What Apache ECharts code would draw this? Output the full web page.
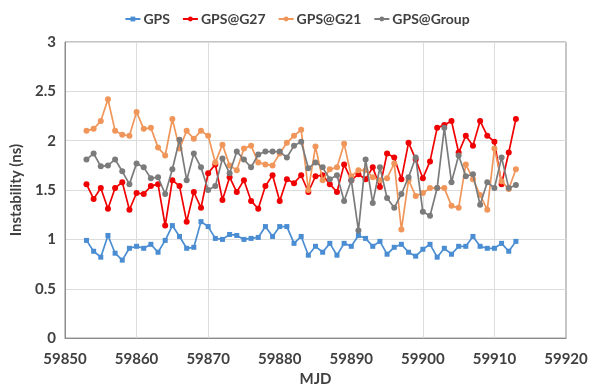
<!DOCTYPE html>
<html>
<head>
<meta charset="utf-8">
<script src="https://cdn.jsdelivr.net/npm/echarts@6/dist/echarts.min.js"></script>
<style>
  html, body { margin: 0; padding: 0; background: #fff; }
  #chart { width: 594px; height: 392px; }
</style>
</head>
<body>
<div id="chart"></div>
<script>
// Days (MJD) 59853 .. 59913
const startDay = 59853;
const gps = [
  0.99, 0.88, 0.82, 1.04, 0.86, 0.79, 0.91, 0.93, 0.91, 0.95,
  0.87, 0.99, 1.14, 1.03, 0.91, 0.92, 1.18, 1.13, 1.01, 1.00,
  1.05, 1.04, 1.00, 1.01, 1.02, 1.13, 1.03, 1.13, 1.13, 0.96,
  1.03, 0.84, 0.93, 0.87, 0.96, 0.84, 0.96, 0.93, 1.04, 1.01,
  0.93, 0.98, 0.85, 0.92, 0.95, 0.87, 0.83, 0.90, 0.95, 0.82,
  0.91, 0.85, 0.93, 0.93, 1.03, 0.93, 0.91, 0.91, 0.96, 0.88,
  0.98
];
const gpsG27 = [
  1.56, 1.41, 1.52, 1.31, 1.52, 1.58, 1.30, 1.47, 1.46, 1.54,
  1.56, 1.14, 1.60, 1.54, 1.18, 1.48, 1.32, 1.67, 1.76, 1.40,
  1.63, 1.48, 1.60, 1.39, 1.31, 1.54, 1.65, 1.39, 1.61, 1.57,
  1.65, 1.48, 1.64, 1.65, 1.56, 1.48, 1.76, 1.60, 1.66, 1.61,
  1.73, 1.53, 1.87, 1.83, 1.61, 1.98, 1.81, 1.62, 1.79, 2.13,
  2.16, 2.20, 1.88, 2.05, 1.95, 2.20, 2.05, 1.99, 1.56, 1.88,
  2.22
];
const gpsG21 = [
  2.10, 2.12, 2.20, 2.42, 2.10, 2.06, 2.05, 2.29, 2.12, 2.13,
  1.93, 1.85, 2.22, 1.92, 2.10, 2.02, 2.10, 2.05, 1.78, 1.96,
  1.75, 1.70, 1.92, 1.95, 1.78, 1.76, 1.75, 1.87, 1.98, 2.05,
  2.11, 1.50, 1.94, 1.60, 1.71, 1.73, 1.97, 1.64, 1.70, 1.70,
  1.63, 1.60, 1.62, 1.77, 1.10, 1.60, 1.44, 1.47, 1.52, 1.52,
  1.52, 1.34, 1.32, 1.76, 1.61, 1.45, 1.30, 1.92, 1.59, 1.51,
  1.71
];
const gpsGroup = [
  1.81, 1.87, 1.74, 1.75, 1.81, 1.69, 1.56, 1.77, 1.73, 1.62,
  1.63, 1.46, 1.71, 2.01, 1.60, 1.87, 1.73, 1.50, 1.54, 1.82,
  1.67, 1.89, 1.81, 1.73, 1.86, 1.89, 1.89, 1.89, 1.83, 1.95,
  1.99, 1.72, 1.78, 1.73, 1.61, 1.65, 1.39, 1.60, 1.09, 1.81,
  1.37, 1.73, 1.42, 1.32, 1.46, 1.63, 1.83, 1.28, 1.24, 1.52,
  2.13, 1.58, 1.85, 1.64, 1.66, 1.35, 1.58, 1.52, 1.83, 1.52,
  1.55
];
const seriesNames = ['GPS', 'GPS@G27', 'GPS@G21', 'GPS@Group'];
const xTicks = [59850, 59860, 59870, 59880, 59890, 59900, 59910, 59920];
const yTicks = [0, 0.5, 1, 1.5, 2, 2.5, 3];
// vertical guide lines shown in the plot
const xGuides = [59860, 59870, 59900, 59910];

const toPairs = arr => arr.map((v, i) => [startDay + i, v]);

const textColor = '#404040';
const font = 'Lato, "Open Sans", sans-serif';

const styles = [
  { color: '#4a8dd2', symbol: 'rect', size: 5 },
  { color: '#f00000', symbol: 'circle', size: 6 },
  { color: '#f0965a', symbol: 'circle', size: 6 },
  { color: '#7b7b7b', symbol: 'circle', size: 6 }
];
const dataSets = [gps, gpsG27, gpsG21, gpsGroup];

const series = dataSets.map((arr, k) => ({
  name: seriesNames[k],
  type: 'line',
  data: toPairs(arr),
  symbol: styles[k].symbol,
  symbolSize: styles[k].size,
  showSymbol: true,
  animation: false,
  itemStyle: { color: styles[k].color },
  lineStyle: { color: styles[k].color, width: 1.7 },
  z: 3 + k
}));

// light vertical guides drawn beneath the data
series.push({
  name: 'guides',
  type: 'line',
  data: [],
  silent: true,
  animation: false,
  markLine: {
    silent: true,
    symbol: ['none', 'none'],
    label: { show: false },
    lineStyle: { color: '#dcdcdc', width: 1, type: 'solid' },
    z: 1,
    data: xGuides.map(v => ({ xAxis: v }))
  }
});

const labelStyle = { color: textColor, fontSize: 15, fontWeight: 'bold', fontFamily: font };

const chart = echarts.init(document.getElementById('chart'), null, { renderer: 'canvas' });
chart.setOption({
  backgroundColor: '#ffffff',
  animation: false,
  textStyle: { fontFamily: font },
  legend: {
    data: seriesNames,
    top: 7,
    left: 'center',
    itemWidth: 15,
    itemHeight: 6,
    itemGap: 12,
    textStyle: Object.assign({}, labelStyle, { fontSize: 14, padding: [0, 0, 0, -2] })
  },
  grid: {
    left: 65, right: 28, top: 42, bottom: 48,
    show: true, borderColor: '#8c8c8c', borderWidth: 1
  },
  xAxis: {
    type: 'value',
    min: xTicks[0],
    max: xTicks[xTicks.length - 1],
    interval: 10,
    name: 'MJD',
    nameLocation: 'middle',
    nameGap: 32,
    nameTextStyle: labelStyle,
    axisLine: { show: true, lineStyle: { color: '#8c8c8c' } },
    axisTick: { show: false },
    splitLine: { show: false },
    axisLabel: Object.assign({}, labelStyle, { margin: 14, formatter: v => String(v) })
  },
  yAxis: {
    type: 'value',
    min: yTicks[0],
    max: yTicks[yTicks.length - 1],
    interval: 0.5,
    name: 'Instability (ns)',
    nameLocation: 'middle',
    nameGap: 35,
    nameTextStyle: labelStyle,
    axisLine: { show: true, lineStyle: { color: '#8c8c8c' } },
    axisTick: { show: false },
    splitLine: { show: true, lineStyle: { color: '#dcdcdc', width: 1 } },
    axisLabel: Object.assign({}, labelStyle, { margin: 9 })
  },
  series: series
});
</script>
</body>
</html>
